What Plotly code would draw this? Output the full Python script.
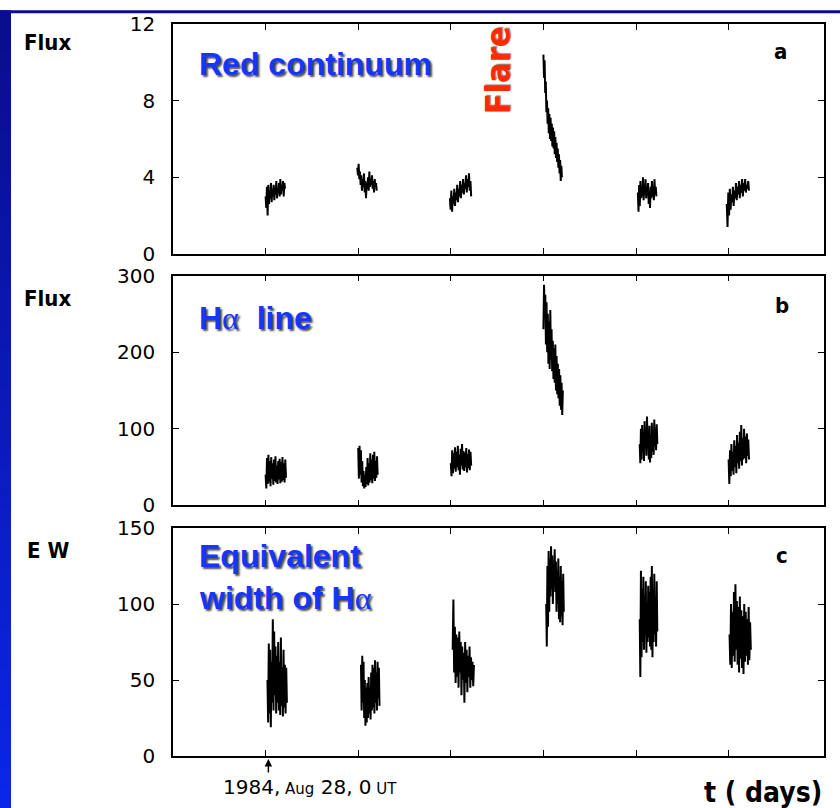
import numpy as np
import plotly.graph_objects as go

# ---------------- data ----------------
# x: days after 1984 Aug 28, 0 UT ; each observing night = one burst
tick_days = [0, 1, 2, 3, 4, 5]

a_windows = [(0.00, 0.21), (0.99, 1.20), (1.99, 2.22), (3.00, 3.20), (4.02, 4.22), (4.98, 5.22)]
b_windows = [(0.00, 0.22), (1.00, 1.21), (2.00, 2.22), (3.00, 3.21), (4.04, 4.23), (5.00, 5.22)]
c_windows = [(0.02, 0.23), (1.03, 1.23), (2.02, 2.25), (3.03, 3.22), (4.04, 4.23), (5.01, 5.24)]

# panel a: red continuum flux
a1 = [3.0, 2.4, 3.5, 2.0, 3.6, 2.6, 3.3, 2.9, 3.7, 2.7, 3.4, 3.0, 3.6, 2.8, 3.5, 3.1, 3.8, 2.9, 3.4, 3.2, 3.7, 3.0, 3.9, 3.1, 3.6, 3.3, 3.8, 3.0, 3.7, 3.4]
a2 = [4.5, 4.1, 4.7, 3.9, 4.3, 3.6, 4.1, 3.3, 3.9, 3.5, 4.2, 3.2, 3.8, 2.9, 3.7, 3.4, 4.0, 3.3, 4.3, 3.5, 3.9, 3.6, 4.1, 3.4, 3.8, 3.2, 3.9, 3.5, 3.7, 3.3]
a3 = [2.9, 2.3, 3.3, 2.2, 3.0, 2.6, 3.4, 2.5, 3.2, 2.8, 3.6, 2.7, 3.4, 3.0, 3.8, 2.9, 3.6, 3.2, 3.9, 3.1, 3.7, 3.4, 4.1, 3.2, 3.9, 3.5, 4.2, 3.3, 3.8, 3.0]
a4 = [10.4, 9.2, 10.1, 8.4, 9.0, 7.4, 8.0, 6.8, 7.6, 6.3, 7.3, 6.0, 7.1, 5.9, 6.8, 5.6, 6.6, 5.5, 6.4, 5.2, 6.1, 5.0, 5.8, 4.8, 5.5, 4.5, 5.2, 4.2, 4.9, 3.8, 4.6, 4.0]
a5 = [3.2, 2.2, 3.6, 2.5, 3.8, 2.9, 3.5, 3.0, 4.0, 2.8, 3.6, 3.1, 3.9, 2.9, 3.4, 3.2, 3.7, 2.6, 3.3, 2.4, 3.5, 2.9, 3.8, 3.0, 3.4, 2.8, 3.9, 3.1, 3.5, 3.0]
a6 = [2.6, 1.4, 3.2, 2.0, 3.4, 2.3, 3.1, 2.7, 3.5, 2.5, 3.3, 2.9, 3.7, 2.8, 3.5, 3.1, 3.8, 2.9, 3.6, 3.2, 3.9, 3.0, 3.7, 3.3, 3.9, 3.2, 3.6, 3.4, 3.8, 3.3]

# panel b: H-alpha line flux
b1 = [40, 22, 62, 28, 66, 30, 58, 25, 63, 35, 55, 27, 60, 32, 64, 30, 52, 28, 58, 34, 61, 29, 57, 31, 63, 33, 55, 30, 60, 36]
b2 = [75, 35, 78, 40, 72, 30, 58, 25, 45, 22, 40, 24, 50, 28, 62, 26, 55, 30, 68, 33, 60, 29, 66, 35, 70, 32, 58, 36, 64, 40]
b3 = [55, 38, 72, 42, 68, 48, 76, 44, 70, 50, 78, 46, 66, 40, 74, 52, 80, 47, 71, 45, 69, 50, 75, 43, 67, 49, 73, 46, 70, 52]
b4 = [230, 288, 250, 275, 210, 265, 200, 250, 185, 240, 178, 255, 190, 230, 175, 215, 165, 205, 160, 210, 150, 195, 145, 185, 140, 178, 130, 170, 125, 160, 118, 150]
b5 = [80, 55, 100, 60, 105, 70, 95, 58, 110, 75, 98, 65, 116, 80, 92, 60, 104, 56, 88, 62, 108, 70, 96, 66, 112, 78, 100, 72, 106, 80]
b6 = [60, 28, 72, 38, 80, 45, 70, 40, 85, 50, 78, 42, 92, 55, 82, 48, 96, 58, 105, 52, 88, 60, 100, 62, 90, 55, 94, 65, 86, 60]

# panel c: equivalent width of H-alpha
c1 = [50, 22, 74, 28, 70, 19, 62, 35, 90, 30, 82, 40, 72, 28, 66, 35, 75, 30, 62, 27, 78, 33, 58, 26, 70, 32, 60, 28, 58, 35]
c2 = [60, 30, 66, 35, 62, 25, 50, 20, 45, 22, 48, 25, 52, 28, 45, 24, 55, 30, 60, 32, 58, 28, 63, 35, 55, 30, 62, 38, 58, 33]
c3 = [70, 103, 55, 85, 48, 80, 52, 78, 45, 82, 55, 75, 40, 72, 50, 68, 35, 75, 48, 70, 42, 66, 52, 72, 45, 65, 50, 62, 46, 60]
c4 = [100, 72, 125, 85, 135, 95, 130, 105, 138, 110, 132, 100, 125, 115, 136, 108, 128, 95, 122, 100, 130, 90, 118, 88, 125, 92, 115, 86, 120, 95]
c5 = [90, 52, 122, 65, 110, 75, 118, 70, 105, 80, 115, 68, 100, 75, 112, 78, 108, 72, 118, 70, 125, 65, 110, 75, 120, 80, 105, 72, 115, 82]
c6 = [80, 60, 100, 58, 95, 66, 108, 62, 113, 70, 102, 60, 98, 55, 105, 64, 96, 58, 92, 54, 100, 62, 95, 66, 90, 60, 98, 63, 88, 70]

a_series = [a1, a2, a3, a4, a5, a6]
b_series = [b1, b2, b3, b4, b5, b6]
c_series = [c1, c2, c3, c4, c5, c6]

y_ticks_a = [0, 4, 8, 12]
y_ticks_b = [0, 100, 200, 300]
y_ticks_c = [0, 50, 100, 150]

# ---------------- helpers ----------------
def build(windows, series):
    xs, ys = [], []
    for (t0, t1), vals in zip(windows, series):
        t = np.linspace(t0, t1, len(vals))  # evenly sampled times within the night
        xs += list(t) + [None]
        ys += list(vals) + [None]
    return xs, ys

# pixel layout helpers (plot area: x 173..824, y 14..756)
L, R, T, B = 173, 824, 14, 756
W, H = R - L, B - T
def px(x):
    return (x - L) / W
def py(y):
    return (B - y) / H

fig = go.Figure()
for k, (win, ser) in enumerate([(a_windows, a_series), (b_windows, b_series), (c_windows, c_series)], start=1):
    xs, ys = build(win, ser)
    fig.add_trace(go.Scatter(x=xs, y=ys, mode="lines",
                             line=dict(color="black", width=2.0),
                             xaxis="x" if k == 1 else f"x{k}",
                             yaxis="y" if k == 1 else f"y{k}",
                             hoverinfo="skip", showlegend=False))

tickfont = dict(family="DejaVu Sans, Liberation Sans, Arial", size=20, color="black")
xcommon = dict(range=[-1.0, 6.03], tickvals=tick_days, showticklabels=False,
               ticks="inside", ticklen=6, tickwidth=1.3, tickcolor="black",
               showline=True, linecolor="black", linewidth=1.5, mirror="ticks",
               showgrid=False, zeroline=False, fixedrange=True)
ycommon = dict(ticks="inside", ticklen=6, tickwidth=1.3, tickcolor="black",
               showline=True, linecolor="black", linewidth=1.5, mirror="ticks",
               showgrid=False, zeroline=False, tickfont=tickfont, ticklabelstandoff=12)

dom_a = [py(247), 1.0]
dom_b = [py(502), py(269)]
dom_c = [0.0, py(525)]

fig.update_layout(
    width=840, height=808,
    margin=dict(l=L, r=840 - R, t=T, b=808 - B),
    paper_bgcolor="white", plot_bgcolor="white",
    xaxis=dict(**xcommon, anchor="y"),
    xaxis2=dict(**xcommon, anchor="y2"),
    xaxis3=dict(**xcommon, anchor="y3"),
    yaxis=dict(**ycommon, domain=dom_a, range=[0, 12], tickvals=y_ticks_a, anchor="x"),
    yaxis2=dict(**ycommon, domain=dom_b, range=[0, 300], tickvals=y_ticks_b, anchor="x2"),
    yaxis3=dict(**ycommon, domain=dom_c, range=[0, 150], tickvals=y_ticks_c, anchor="x3"),
    showlegend=False,
)

# ---- blue slide frame (left band with vertical gradient, top band) ----
shapes = []
n = 40
top_rgb = np.array([10, 14, 140])
bot_rgb = np.array([10, 38, 232])
for i in range(n):
    f = i / (n - 1)
    c = (top_rgb * (1 - f) + bot_rgb * f).astype(int)
    y0 = 808 * i / n
    y1 = 808 * (i + 1) / n + 1
    shapes.append(dict(type="rect", xref="paper", yref="paper",
                       x0=px(0), x1=px(11), y0=py(y1), y1=py(y0),
                       fillcolor=f"rgb({c[0]},{c[1]},{c[2]})", line=dict(width=0), layer="above"))
shapes.append(dict(type="rect", xref="paper", yref="paper",
                   x0=px(0), x1=px(840), y0=py(3), y1=py(0),
                   fillcolor="rgb(10,14,140)", line=dict(width=0), layer="above"))
fig.update_layout(shapes=shapes)

narrow = "Liberation Sans Narrow, DejaVu Sans Condensed, Arial Narrow, sans-serif"
blue = "#1436ff"
shadow = "2px 2px 2px rgba(0,0,0,0.7)"
big = dict(family="Liberation Sans, Arial, sans-serif", size=32, color=blue, weight="bold", shadow=shadow)

ann = []
def note(text, x, y, font, xanchor="left", yanchor="middle", textangle=0):
    ann.append(dict(text=text, x=x, y=y, xref="paper", yref="paper", showarrow=False,
                    xanchor=xanchor, yanchor=yanchor, font=font, textangle=textangle))

lab = dict(family=narrow, size=22, color="black", weight="bold")
note("Flux", px(22), py(33), lab)
note("Flux", px(22), py(292), lab)
note("E W", px(25), py(548), lab)
note("a", px(780), py(42), lab, xanchor="center")
note("b", px(782), py(299), lab, xanchor="center")
note("c", px(782), py(553), lab, xanchor="center")

note("Red continuum", px(197), py(55), big)
note("H<span style='font-family:Liberation Serif;font-weight:normal'>\u03b1</span>\u00a0\u00a0line", px(197), py(312), big)
note("Equivalent", px(197), py(553), big)
note("width of H<span style='font-family:Liberation Serif;font-weight:normal'>\u03b1</span>", px(197), py(596), big)

note("Flare", px(498), py(61), dict(family=narrow, size=34, color="#ff2a00", weight="bold",
                                     shadow="1px 1px 1px rgba(0,0,0,0.5)"),
     xanchor="center", textangle=-90)

note("1984,<span style='font-size:15px'> Aug</span> 28, 0<span style='font-size:15px'> UT</span>",
     px(310), py(787), dict(family="DejaVu Sans, Arial", size=20, color="black"), xanchor="center")
note("t ( days)", px(824), py(793), dict(family=narrow, size=28, color="black", weight="bold"), xanchor="right")

# arrow marking 1984 Aug 28, 0 UT
ann.append(dict(text="", x=0.03, y=py(759), xref="x3", yref="paper", showarrow=True,
                ax=0, ay=15, arrowhead=2, arrowsize=1, arrowwidth=1.5, arrowcolor="black"))

fig.update_layout(annotations=ann)
fig.write_html("out.html")
